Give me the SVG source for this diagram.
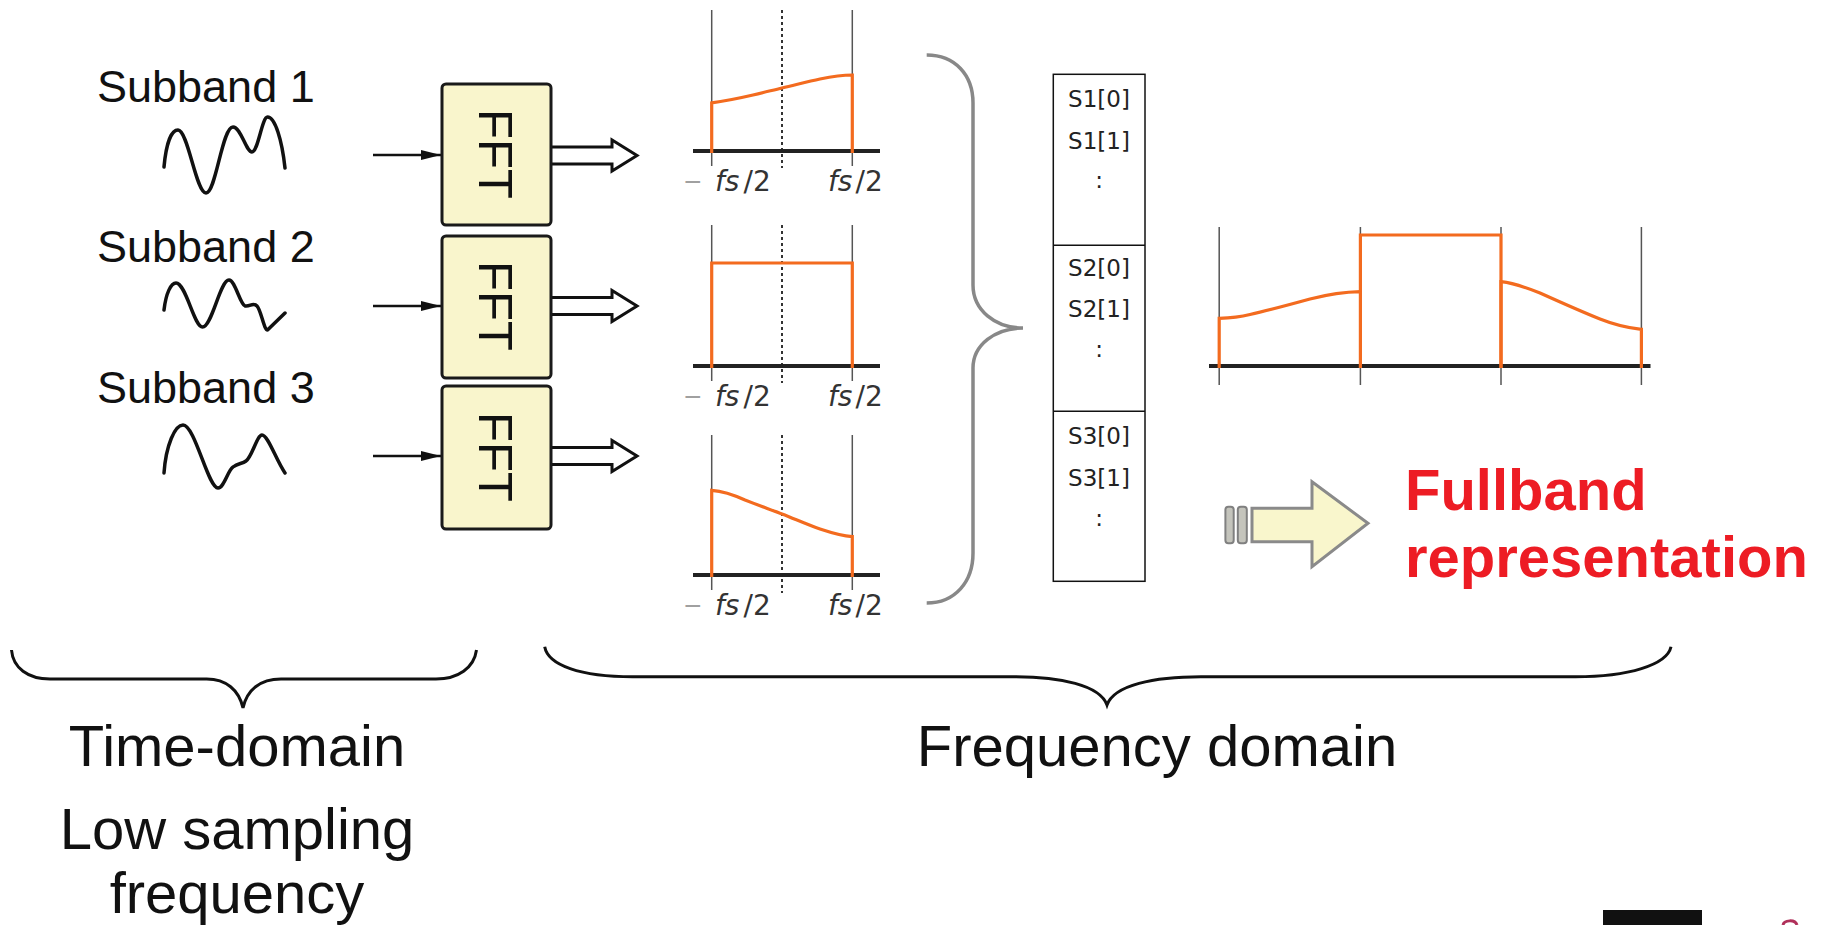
<svg xmlns="http://www.w3.org/2000/svg" width="1827" height="925" viewBox="0 0 1827 925">
<defs>
<style>
.lbl{font-family:"Liberation Sans",Arial,sans-serif;fill:#111}
.big{font-family:"Liberation Sans",Arial,sans-serif;font-size:58px;fill:#111;text-anchor:middle}
.sub{font-family:"Liberation Sans",Arial,sans-serif;font-size:45px;fill:#111}
.fft{font-family:"Liberation Sans",Arial,sans-serif;font-size:49px;fill:#111;text-anchor:middle}
.box{fill:#f9f5cc;stroke:#1a1a1a;stroke-width:3}
.wave{fill:none;stroke:#111;stroke-width:3.5;stroke-linecap:round;stroke-linejoin:round}
.in{fill:none;stroke:#111;stroke-width:2.5;marker-end:url(#ah)}
.out{fill:#fff;stroke:#111;stroke-width:3;stroke-linejoin:miter}
.vl{stroke:#555;stroke-width:1.5}
.dot{stroke:#333;stroke-width:2;stroke-dasharray:3 3}
.ax{stroke:#222;stroke-width:4}
.or{fill:none;stroke:#f36b1f;stroke-width:3.2;stroke-linejoin:miter}
.fs{font-family:"DejaVu Sans",sans-serif;font-size:28px;fill:#333}
.mn{font-family:"Liberation Sans",Arial,sans-serif;font-size:30px;fill:#a0a0a0}
.tab{font-family:"DejaVu Sans",sans-serif;font-size:23px;fill:#222;text-anchor:middle}
.brace{fill:none;stroke:#111;stroke-width:3}
.red{font-family:"Liberation Sans",Arial,sans-serif;font-size:58px;font-weight:bold;fill:#ed1c24}
</style>
<marker id="ah" viewBox="0 0 20 10" refX="20" refY="5" markerWidth="20" markerHeight="10" markerUnits="userSpaceOnUse" orient="auto">
<path d="M0,0 L20,5 L0,10 z" fill="#111"/>
</marker>
<path id="hollow" d="M0,-8.5 H61 V-15.5 L86,0 L61,15.5 V8.5 H0"/>
</defs>

<g id="subband1">
<text class="sub" x="97" y="102">Subband 1</text>
<path class="wave" d="M164,167 C166,145 171,130 178,130 C188,130 196,193 206,193 C216,193 222,127 233,127 C241,127 246,152 252,152 C258,152 262,117 267.5,117 C275,117 282,140 285,168"/>
</g>
<g id="subband2">
<text class="sub" x="97" y="262">Subband 2</text>
<path class="wave" d="M164,310 C166,293 171,283 176,283 C186,283 194,327 202.5,327 C212,327 220,280 229,280 C235,280 240,304 245,306 C250,307 253,302 257,306 C261,310 264,330 267.5,330 L285,313"/>
</g>
<g id="subband3">
<text class="sub" x="97" y="403">Subband 3</text>
<path class="wave" d="M164,473 C166,445 175,425 183,425 C195,425 208,488 218,488 C224,488 228,470 233,467 C238,463 242,464 246,461 C252,457 257,435 262,435 C268,435 276,460 285,473"/>
</g>

<g id="connectors">
<path class="in" d="M373,155 H441"/>
<path class="in" d="M373,306 H441"/>
<path class="in" d="M373,456 H441"/>
<use href="#hollow" class="out" transform="translate(551,155.5)"/>
<use href="#hollow" class="out" transform="translate(551,306)"/>
<use href="#hollow" class="out" transform="translate(551,456)"/>
</g>

<g id="fft1">
<rect class="box" x="442" y="84" width="109" height="141" rx="4"/>
<text class="fft" transform="translate(479,154) rotate(90)">FFT</text>
</g>
<g id="fft2">
<rect class="box" x="442" y="236" width="109" height="142" rx="4"/>
<text class="fft" transform="translate(479,306) rotate(90)">FFT</text>
</g>
<g id="fft3">
<rect class="box" x="442" y="386" width="109" height="143" rx="4"/>
<text class="fft" transform="translate(479,457) rotate(90)">FFT</text>
</g>

<g id="spectrum1">
<line class="vl" x1="711.7" y1="10" x2="711.7" y2="166"/>
<line class="vl" x1="852.3" y1="10" x2="852.3" y2="166"/>
<line class="dot" x1="782" y1="10" x2="782" y2="168"/>
<line class="ax" x1="693" y1="151" x2="880" y2="151"/>
<path class="or" d="M711.7,153 V102.8 C726,101 740,98 753,95 C765,92 774,90 782,88 C795,85 808,81.5 820,79 C832,76.5 843,75 852.3,75 V153"/>
<text class="mn" x="684" y="192">−</text>
<text class="fs" x="715" y="191"><tspan font-style="italic">fs</tspan><tspan dx="4">/2</tspan></text>
<text class="fs" x="828" y="191"><tspan font-style="italic">fs</tspan><tspan dx="3">/2</tspan></text>
</g>
<g id="spectrum2">
<line class="vl" x1="711.7" y1="225" x2="711.7" y2="381"/>
<line class="vl" x1="852.3" y1="225" x2="852.3" y2="381"/>
<line class="dot" x1="782" y1="225" x2="782" y2="383"/>
<line class="ax" x1="693" y1="366" x2="880" y2="366"/>
<path class="or" d="M711.7,368 V263 H852.3 V368"/>
<text class="mn" x="684" y="407">−</text>
<text class="fs" x="715" y="406"><tspan font-style="italic">fs</tspan><tspan dx="4">/2</tspan></text>
<text class="fs" x="828" y="406"><tspan font-style="italic">fs</tspan><tspan dx="3">/2</tspan></text>
</g>
<g id="spectrum3">
<line class="vl" x1="711.7" y1="435" x2="711.7" y2="590"/>
<line class="vl" x1="852.3" y1="435" x2="852.3" y2="590"/>
<line class="dot" x1="782" y1="435" x2="782" y2="593"/>
<line class="ax" x1="693" y1="575" x2="880" y2="575"/>
<path class="or" d="M711.7,577 V490.3 C722,491 732,494 745,500 C760,506 772,510 782,514 C795,519 808,525 820,529 C832,533 842,536 852.3,536.6 V577"/>
<text class="mn" x="684" y="616">−</text>
<text class="fs" x="715" y="615"><tspan font-style="italic">fs</tspan><tspan dx="4">/2</tspan></text>
<text class="fs" x="828" y="615"><tspan font-style="italic">fs</tspan><tspan dx="3">/2</tspan></text>
</g>

<g id="gather-brace">
<path d="M926.7,55 C955,55 973,75 973,103 V285 C973,310 995,328 1023,328 C995,328 973,345 973,368 V553 C973,582 955,603 926.7,603" fill="none" stroke="#888" stroke-width="3.5"/>
</g>

<g id="table">
<rect x="1053.3" y="74.3" width="91.7" height="507" fill="#fff" stroke="#111" stroke-width="1.5"/>
<line x1="1053.3" y1="245.2" x2="1145" y2="245.2" stroke="#111" stroke-width="1.5"/>
<line x1="1053.3" y1="411.2" x2="1145" y2="411.2" stroke="#111" stroke-width="1.5"/>
<text class="tab" x="1099" y="107">S1[0]</text>
<text class="tab" x="1099" y="149">S1[1]</text>
<text class="tab" x="1099" y="188" fill="#666">:</text>
<text class="tab" x="1099" y="276">S2[0]</text>
<text class="tab" x="1099" y="317">S2[1]</text>
<text class="tab" x="1099" y="357" fill="#666">:</text>
<text class="tab" x="1099" y="444">S3[0]</text>
<text class="tab" x="1099" y="486">S3[1]</text>
<text class="tab" x="1099" y="526" fill="#666">:</text>
</g>

<g id="fullband-spectrum">
<line class="vl" x1="1219.2" y1="227" x2="1219.2" y2="385"/>
<line class="vl" x1="1360.4" y1="227" x2="1360.4" y2="385"/>
<line class="vl" x1="1501" y1="227" x2="1501" y2="385"/>
<line class="vl" x1="1641.4" y1="227" x2="1641.4" y2="385"/>
<line class="ax" x1="1209" y1="366" x2="1650.5" y2="366"/>
<path class="or" d="M1219.2,368 V318.3 C1230,318 1240,317 1250,314.5 C1270,310 1290,304.5 1310,299 C1330,294 1345,292 1360.4,291.7 V368"/>
<path class="or" d="M1360.4,291.7 V235 H1501 V368"/>
<path class="or" d="M1501,368 V281.7 C1512,283 1525,287 1540,293 C1560,302 1580,311 1600,319 C1615,325 1628,328 1641.4,329.3 V368"/>
</g>

<g id="big-arrow">
<rect x="1225.4" y="506.7" width="8.3" height="36.6" rx="3" fill="#c4c4bc" stroke="#808080" stroke-width="2"/>
<rect x="1237.8" y="506.7" width="9" height="36.6" rx="3" fill="#c4c4bc" stroke="#808080" stroke-width="2"/>
<path d="M1252,508.3 H1312 V481.7 L1368,523.3 L1312,566.7 V541.7 H1252 Z" fill="#f9f6cc" stroke="#8a8a8a" stroke-width="3"/>
</g>

<g id="fullband-label">
<text class="red" x="1405" y="510">Fullband</text>
<text class="red" x="1405" y="577">representation</text>
</g>

<g id="time-domain">
<path class="brace" d="M11.5,650 C13,668 28,679 50,679 H206.7 C226,679 239,690 243,708 C247,690 260,679 281,679 H436 C458,679 474,668 476.5,650"/>
<text class="big" x="237" y="766">Time-domain</text>
<text class="big" x="237" y="849">Low sampling</text>
<text class="big" x="237" y="913">frequency</text>
</g>

<g id="frequency-domain">
<path class="brace" d="M544.7,646.7 C548,665 580,676.7 632.7,676.7 H1014 C1060,676.7 1100,685 1107,705 C1114,685 1154,676.7 1201,676.7 H1575.5 C1628,676.7 1667,665 1671,646.7"/>
<text class="big" x="1157" y="766">Frequency domain</text>
</g>

<rect x="1603" y="910" width="99" height="15" fill="#111"/>
<path d="M1783,925 C1784,920 1795,919 1797,925" fill="none" stroke="#b0305a" stroke-width="3"/>
</svg>
